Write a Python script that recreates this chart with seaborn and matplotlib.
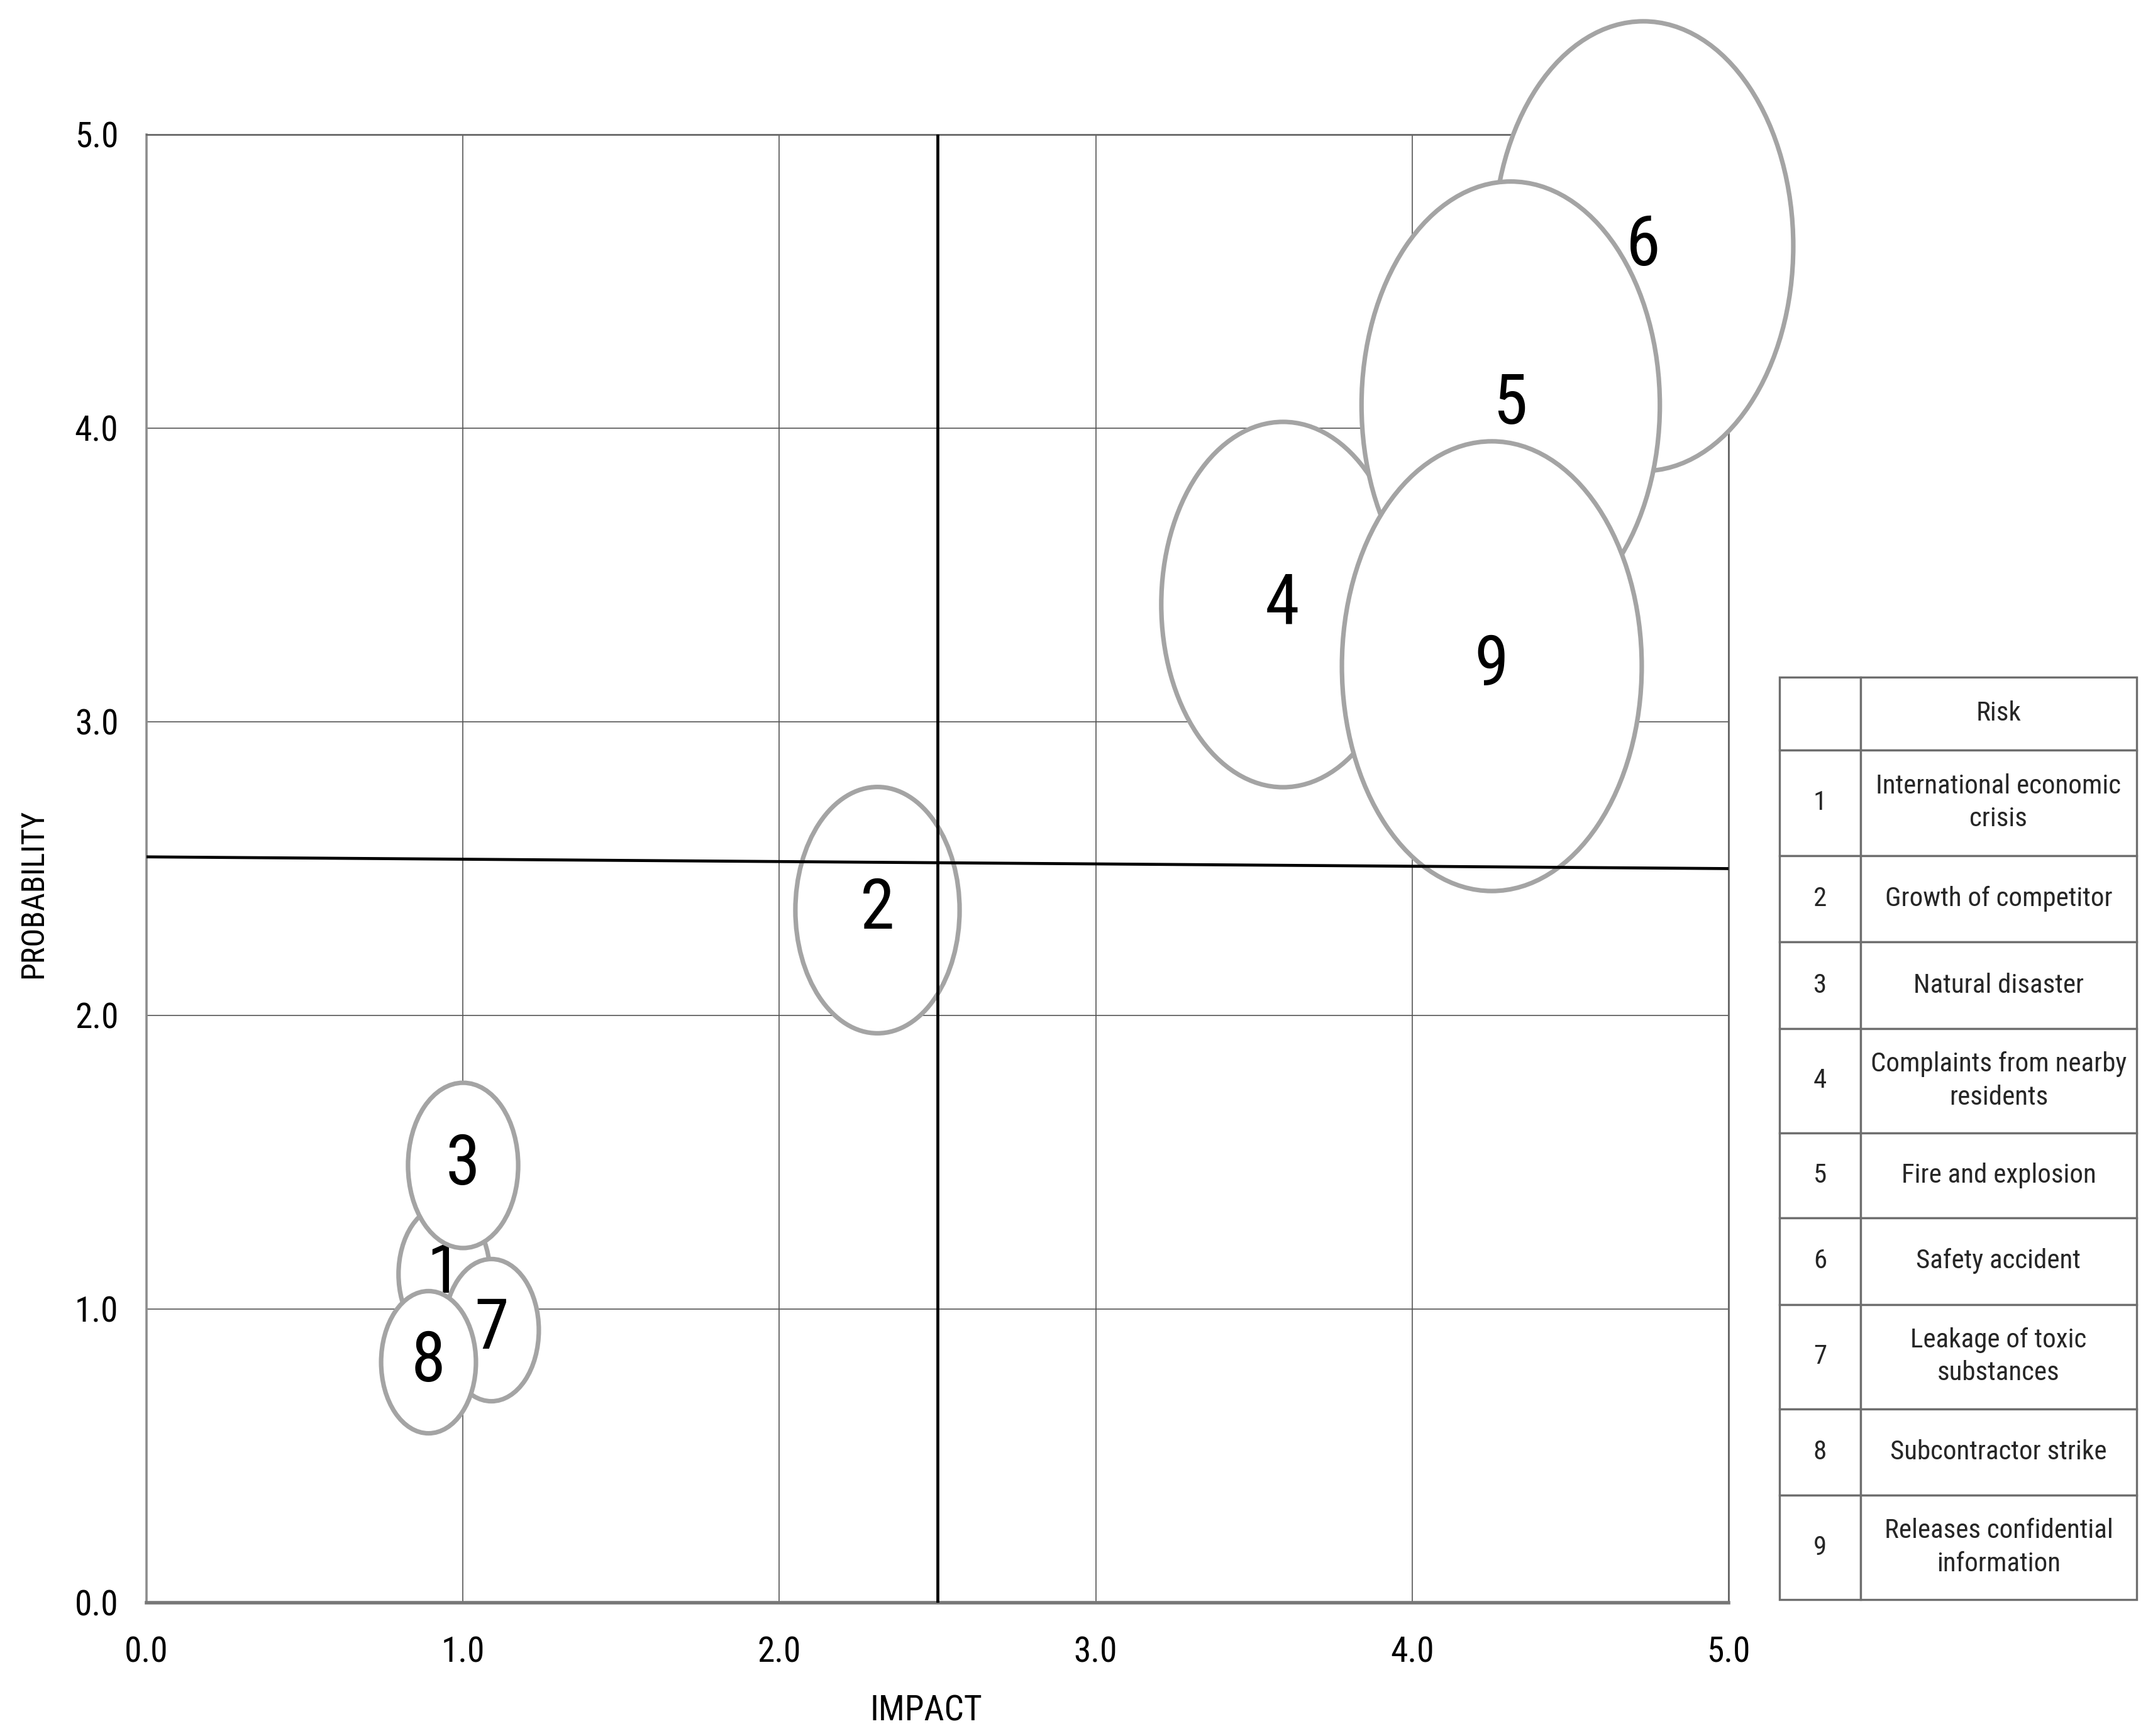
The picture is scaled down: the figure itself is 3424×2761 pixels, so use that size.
import numpy as np
import pandas as pd
import matplotlib
matplotlib.use("Agg")
import matplotlib.pyplot as plt
import seaborn as sns
from matplotlib import font_manager as fm
from matplotlib.path import Path
from matplotlib.markers import MarkerStyle
from matplotlib.transforms import Affine2D

# === Data ===
RISK_IDS = [1, 2, 3, 4, 5, 6, 7, 8, 9]
RISK_NAMES = [
    "International economic\ncrisis",
    "Growth of competitor",
    "Natural disaster",
    "Complaints from nearby\nresidents",
    "Fire and explosion",
    "Safety accident",
    "Leakage of toxic\nsubstances",
    "Subcontractor strike",
    "Releases confidential\ninformation",
]
IMPACT = [0.94, 2.31, 1.00, 3.59, 4.31, 4.73, 1.09, 0.89, 4.25]
PROBABILITY = [1.12, 2.36, 1.49, 3.40, 4.08, 4.62, 0.93, 0.82, 3.19]
SEVERITY = [0.93, 3.0, 1.35, 6.6, 9.9, 10.0, 1.0, 1.0, 10.0]

AXIS_TICKS = [0.0, 1.0, 2.0, 3.0, 4.0, 5.0]
QUADRANT_IMPACT = 2.5
QUADRANT_LINE_X = [0.0, 5.0]
QUADRANT_LINE_Y = [2.54, 2.50]

# bubbles stacked in this order (later ones on top)
DRAW_ORDER = [1, 3, 7, 8, 2, 6, 4, 5, 9]

# === Style ===
sns.set_theme(style="white")

# the reference uses a tall, narrow face -> pick a condensed font if there is one
names = {f.name for f in fm.fontManager.ttflist}
family, stretch = "Liberation Sans", "normal"
for cand in ["Roboto Condensed", "Liberation Sans Narrow", "Open Sans Condensed"]:
    if cand in names:
        family, stretch = cand, "normal"
        break
else:
    if any(f.name == "DejaVu Sans" and f.stretch == "condensed" for f in fm.fontManager.ttflist):
        family, stretch = "DejaVu Sans", "condensed"
FONT = [family, "DejaVu Sans"]
plt.rcParams["font.family"] = FONT
plt.rcParams["font.stretch"] = stretch

S_MAX = 66300          # marker area (pt^2) for severity 10
ELLIPSE = MarkerStyle(Path.unit_circle().transformed(Affine2D().scale(1 / 1.5, 1)))

df = pd.DataFrame({"id": RISK_IDS, "impact": IMPACT,
                   "probability": PROBABILITY, "severity": SEVERITY})

fig = plt.figure(figsize=(17.12, 13.805), dpi=200)
ax = fig.add_axes([0.068, 0.0768, 0.7349, 0.8457])

# --- Bubbles + numbers ---
for k, rid in enumerate(DRAW_ORDER):
    row = df[df["id"] == rid]
    sns.scatterplot(data=row, x="impact", y="probability", size="severity",
                    sizes=(0, S_MAX), size_norm=(0, 10), marker=ELLIPSE,
                    color="white", edgecolor="#a4a4a4", linewidth=2.6,
                    legend=False, clip_on=False, zorder=3 + 2 * k, ax=ax)
    ax.text(row["impact"].iloc[0], row["probability"].iloc[0], str(rid),
            ha="center", va="center", fontsize=40, color="black",
            zorder=4 + 2 * k)

# --- Quadrant lines ---
sns.lineplot(x=QUADRANT_LINE_X, y=QUADRANT_LINE_Y, color="black", lw=1.7,
             zorder=60, ax=ax)
ax.axvline(QUADRANT_IMPACT, color="black", lw=1.7, zorder=60)

# --- Axes ---
ax.set_xlim(AXIS_TICKS[0], AXIS_TICKS[-1])
ax.set_ylim(AXIS_TICKS[0], AXIS_TICKS[-1])
ax.set_xticks(AXIS_TICKS)
ax.set_yticks(AXIS_TICKS)
ax.set_xticklabels([f"{t:.1f}" for t in AXIS_TICKS])
ax.set_yticklabels([f"{t:.1f}" for t in AXIS_TICKS])
ax.tick_params(axis="x", length=0, pad=19, labelsize=20, labelcolor="black")
ax.tick_params(axis="y", length=0, pad=16, labelsize=20, labelcolor="black")
ax.set_axisbelow(True)
ax.grid(True, color="#555555", lw=0.6)

ax.spines["left"].set_color("#8c8c8c")
ax.spines["left"].set_linewidth(1.3)
ax.spines["bottom"].set_color("#777777")
ax.spines["bottom"].set_linewidth(2.0)
for s in ("top", "right"):
    ax.spines[s].set_color("#666666")
    ax.spines[s].set_linewidth(1.0)

ax.set_xlabel("IMPACT", fontsize=20, color="black")
ax.set_ylabel("PROBABILITY", fontsize=18, color="black")
ax.xaxis.set_label_coords(0.493, -0.0625)
ax.yaxis.set_label_coords(-0.062, 0.483)

# --- Legend table ---
tab_ax = fig.add_axes([0.8265, 0.0786, 0.1659, 0.5313])
tab_ax.axis("off")
cell_text = [["", "Risk"]] + [[str(i), n] for i, n in zip(RISK_IDS, RISK_NAMES)]
tbl = tab_ax.table(cellText=cell_text, cellLoc="center",
                   colWidths=[59 / 260, 201 / 260], bbox=[0, 0, 1, 1])
tbl.auto_set_font_size(False)
tbl.set_fontsize(15.5 if stretch == "condensed" or family != "Liberation Sans" else 13.5)
row_h = [53, 77, 63, 63, 76, 62, 63, 76, 63, 76]
for (r, c), cell in tbl.get_celld().items():
    cell.set_height(row_h[r])
    cell.set_edgecolor("#6e6e6e")
    cell.set_linewidth(1.2)
    cell.get_text().set_linespacing(1.35)
    cell.get_text().set_fontfamily(FONT)
    cell.get_text().set_fontstretch(stretch)

fig.savefig("out.png", dpi=200, facecolor="white")
